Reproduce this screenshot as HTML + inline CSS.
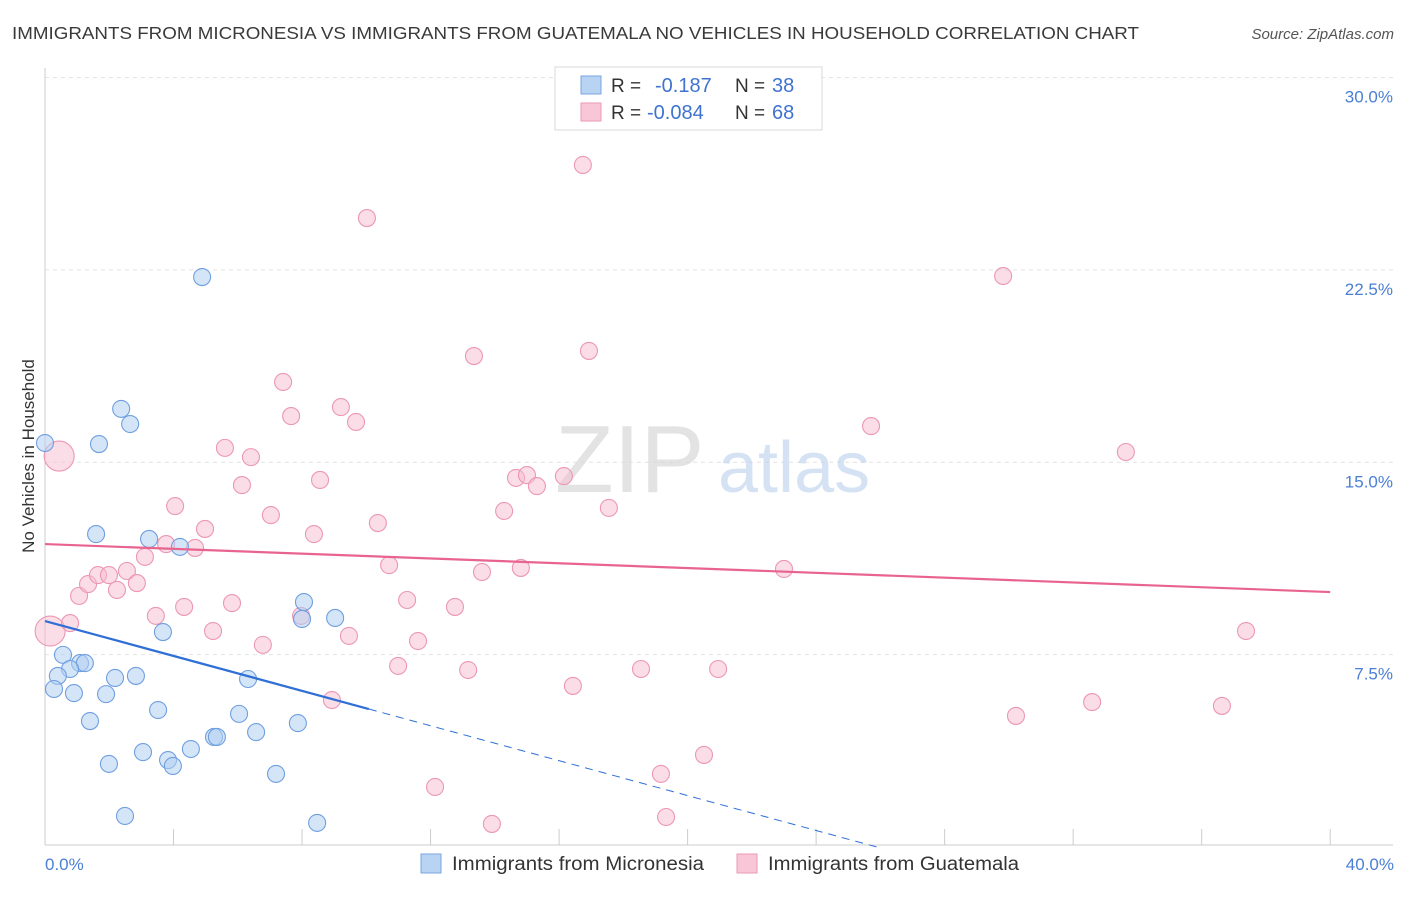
<!DOCTYPE html>
<html><head><meta charset="utf-8"><style>
body{margin:0;background:#fff;font-family:"Liberation Sans",sans-serif;}
svg text{font-family:"Liberation Sans",sans-serif;}
</style></head><body>
<svg id="chart" width="1406" height="892" viewBox="0 0 1406 892" xmlns="http://www.w3.org/2000/svg">
<text x="12" y="39" font-size="17.5" fill="#3a3a3a" textLength="1127" lengthAdjust="spacingAndGlyphs">IMMIGRANTS FROM MICRONESIA VS IMMIGRANTS FROM GUATEMALA NO VEHICLES IN HOUSEHOLD CORRELATION CHART</text>
<text x="1394" y="39" font-size="15" fill="#555" font-style="italic" text-anchor="end">Source: ZipAtlas.com</text>
<g id="grid"></g>
<g>
<text x="555" y="492" font-size="96" fill="#d8d8d8" font-family="Liberation Serif" opacity="0.7">ZIP</text>
<text x="718" y="492" font-size="72" fill="#b8d0ee" opacity="0.6">atlas</text>
</g>
<g id="points"></g>
<g id="lines"></g>
<text transform="translate(34,456) rotate(-90)" font-size="17" fill="#333" text-anchor="middle">No Vehicles in Household</text>
<text x="45" y="870" font-size="17" fill="#4a7fd4">0.0%</text>
<text x="1394" y="870" font-size="17" fill="#4a7fd4" text-anchor="end">40.0%</text>
<g>
<rect x="555" y="67" width="267" height="63" fill="#fff" stroke="#d8d8d8"/>
<rect x="581" y="76" width="20" height="18" fill="#b9d3f3" stroke="#7aa6e0"/>
<rect x="581" y="103" width="20" height="18" fill="#f8c6d6" stroke="#eb9ab6"/>
<text x="611" y="92" font-size="19" fill="#333">R =</text>
<text x="655" y="92" font-size="20" fill="#3f73cf">-0.187</text>
<text x="735" y="92" font-size="19" fill="#333">N =</text>
<text x="772" y="92" font-size="20" fill="#3f73cf">38</text>
<text x="611" y="119" font-size="19" fill="#333">R =</text>
<text x="647" y="119" font-size="20" fill="#3f73cf">-0.084</text>
<text x="735" y="119" font-size="19" fill="#333">N =</text>
<text x="772" y="119" font-size="20" fill="#3f73cf">68</text>
</g>
<g>
<rect x="421" y="854" width="20" height="19" fill="#b9d3f3" stroke="#7aa6e0"/>
<text x="452" y="870" font-size="19" fill="#333" textLength="252" lengthAdjust="spacingAndGlyphs">Immigrants from Micronesia</text>
<rect x="737" y="854" width="20" height="19" fill="#f8c6d6" stroke="#eb9ab6"/>
<text x="768" y="870" font-size="19" fill="#333" textLength="251" lengthAdjust="spacingAndGlyphs">Immigrants from Guatemala</text>
</g>
</svg>
<script>
const yTicks=[7.5,15,22.5,30];
const yTickLabels=["7.5%","15.0%","22.5%","30.0%"];
const xTicks=[0,4,8,12,16,20,24,28,32,36,40];
const blueX=[0.0,2.37,2.65,1.68,4.89,1.59,3.24,4.20,3.67,0.56,1.09,1.24,0.78,0.40,0.28,0.90,1.90,2.18,2.83,6.32,8.06,9.03,8.00,1.40,3.52,6.04,7.87,6.57,5.26,5.35,4.54,3.05,3.83,3.98,1.99,7.19,2.49,8.47];
const blueY=[15.75,17.08,16.49,15.71,22.22,12.20,12.01,11.70,8.38,7.49,7.17,7.17,6.94,6.67,6.16,6.00,5.96,6.59,6.67,6.55,9.55,8.93,8.89,4.91,5.34,5.19,4.83,4.48,4.29,4.29,3.82,3.70,3.39,3.16,3.24,2.85,1.21,0.94];
const pinkX=[0.44,0.16,0.78,1.06,1.34,1.65,1.99,2.24,2.55,2.86,3.11,3.77,4.05,4.67,4.98,5.60,6.13,6.41,3.45,4.33,5.23,5.82,6.78,7.03,7.41,7.66,8.37,8.56,9.21,9.68,7.97,9.46,8.93,10.02,10.36,10.71,10.99,11.27,11.61,12.76,13.17,13.35,13.60,14.29,14.66,15.00,15.31,16.15,14.81,16.43,16.74,16.93,17.55,18.55,19.17,19.33,20.51,20.95,23.00,25.71,29.82,30.22,32.59,33.64,36.63,37.38,12.14,13.91];
const pinkY=[15.24,8.42,8.73,9.79,10.25,10.60,10.60,10.02,10.76,10.29,11.31,11.81,13.29,11.66,12.40,15.56,14.11,15.20,9.01,9.36,8.42,9.51,7.88,12.94,18.13,16.80,12.20,14.31,17.15,16.57,9.01,8.23,5.73,24.52,12.63,10.99,7.06,9.63,8.03,9.36,6.90,19.14,10.72,13.10,14.39,14.50,14.07,14.46,10.88,6.28,26.59,19.34,13.22,6.94,2.85,1.17,3.59,6.94,10.84,16.41,22.26,5.11,5.65,15.40,5.50,8.42,2.34,0.90];
const pinkBig=[0,1];
const blueTrend=[8.81,5.38]; const blueTrendEnd=10.08;
const pinkTrend=[11.81,9.94];

const NS="http://www.w3.org/2000/svg";
const sx=v=>45+v*32.13, sy=v=>847-v*25.65;
function mk(tag,attrs,parent){const e=document.createElementNS(NS,tag);for(const k in attrs)e.setAttribute(k,attrs[k]);parent.appendChild(e);return e;}
const grid=document.getElementById('grid');
yTicks.forEach((t,i)=>{
  const l=mk('line',{x1:45,x2:1393,y1:sy(t),y2:sy(t),stroke:'#e4e4e4','stroke-dasharray':'4,4'},grid);
  
  
  const tx=mk('text',{x:1393,y:sy(t)+25,'font-size':17,fill:'#4a7fd4','text-anchor':'end'},grid);
  tx.textContent=yTickLabels[i];
  
  
});
const ax=mk('line',{x1:45,x2:1393,y1:845,y2:845,stroke:'#ccc'},grid);


const ay=mk('line',{x1:45,x2:45,y1:68,y2:845,stroke:'#ccc'},grid);


xTicks.forEach(t=>{
  const l=mk('line',{x1:sx(t),x2:sx(t),y1:829,y2:845,stroke:'#ccc'},grid);
  
  
});
const pts=document.getElementById('points');
pinkX.forEach((x,i)=>{
  const big=pinkBig.includes(i);
  const c=mk('circle',{cx:sx(x),cy:sy(pinkY[i]),r:big?15:8.5,fill:'#f6bcd0','fill-opacity':0.5,stroke:'#ec97b4','stroke-width':1.1},pts);
  
  
});
blueX.forEach((x,i)=>{
  const c=mk('circle',{cx:sx(x),cy:sy(blueY[i]),r:8.5,fill:'#b3cff2','fill-opacity':0.55,stroke:'#6f9fe0','stroke-width':1.1},pts);
  
  
});
const ln=document.getElementById('lines');
const slope=(blueTrend[1]-blueTrend[0])/blueTrendEnd;
const zeroX=-blueTrend[0]/slope;
const bl=mk('line',{x1:sx(0),y1:sy(blueTrend[0]),x2:sx(blueTrendEnd),y2:sy(blueTrend[1]),stroke:'#2f6fd6','stroke-width':2.2},ln);


const bd=mk('line',{x1:sx(blueTrendEnd),y1:sy(blueTrend[1]),x2:sx(zeroX),y2:sy(0),stroke:'#2f6fd6','stroke-width':1,'stroke-dasharray':'8,6'},ln);


const pl=mk('line',{x1:sx(0),y1:sy(pinkTrend[0]),x2:sx(40),y2:sy(pinkTrend[1]),stroke:'#e8648e','stroke-width':2.2},ln);


</script>
</body></html>
